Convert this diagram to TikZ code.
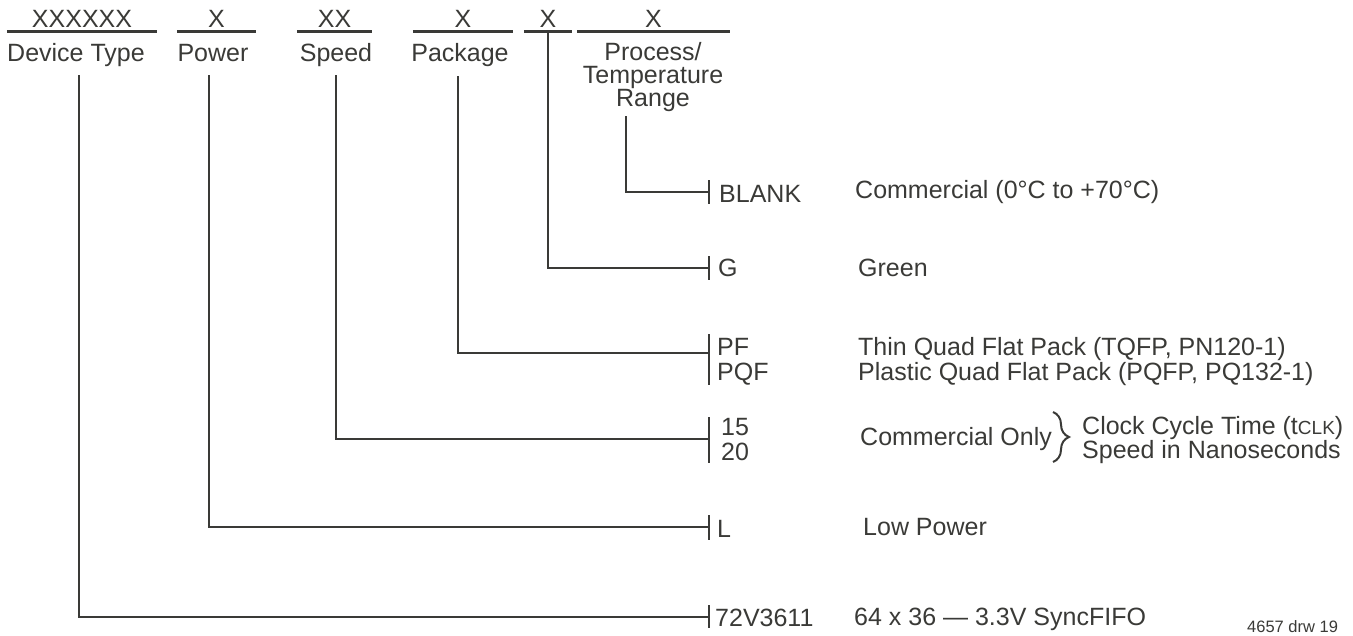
\documentclass[tikz,border=0pt]{standalone}
\usepackage{fontspec}
\setmainfont{Liberation Sans}
\usepackage{tikz}
\usetikzlibrary{decorations.pathreplacing}
\definecolor{drwInk}{HTML}{3A3A37}
\colorlet{oiK}{drwInk}

\begin{document}
\begin{tikzpicture}[x=1pt,y=-1pt]
    \tikzstyle{rule}=[draw=oiK, line width=2.6pt]
    \tikzstyle{txt}=[inner sep=0pt, text=oiK, font=\fontsize{25}{25}\selectfont]
    \tikzstyle{field}=[txt, anchor=base, text depth=4pt]
    \tikzstyle{lbl}=[txt, anchor=base]
    \tikzstyle{code}=[txt, anchor=base west]
    \tikzstyle{desc}=[txt, anchor=base west]
    \tikzstyle{twoline}=[txt, anchor=north west, align=left]

    \useasboundingbox (0,0) rectangle (1353,635);

    % ordering code fields
    \node[field, minimum width=150pt] (f1) at (82,27) {XXXXXX};
    \node[field, minimum width=79pt] (f2) at (216.5,27) {X};
    \node[field, minimum width=75pt] (f3) at (334.5,27) {XX};
    \node[field, minimum width=100pt] (f4) at (463,27) {X};
    \node[field, minimum width=48pt] (f5) at (548,27) {X};
    \node[field, minimum width=153pt] (f6) at (653.5,27) {X};
    \foreach \f in {f1,f2,f3,f4,f5,f6}
      \draw[rule] (\f.south west) -- (\f.south east);

    \node[lbl] (devtype) at (76,61) {Device Type};
    \node[lbl] (power) at (213,61) {Power};
    \node[lbl] (speed) at (336,61) {Speed};
    \node[lbl] (package) at (460,61) {Package};
    \node[txt, anchor=north, align=center, font=\fontsize{25}{23}\selectfont] (process) at (653,42) {Process/\\Temperature\\Range};

    % line starts and ends
    \coordinate (p1) at (79,75);
    \coordinate (p2) at (209,75);
    \coordinate (p3) at (336,75);
    \coordinate (p4) at (458,76);
    \coordinate (p5) at (548,33);
    \coordinate (p6) at (626,116);
    \coordinate (k1) at (709,192);
    \coordinate (k2) at (709,268);
    \coordinate (k3) at (709,353);
    \coordinate (k4) at (709,439);
    \coordinate (k5) at (709,527);
    \coordinate (k6) at (709,617);

    \draw[rule] (p6) |- (k1);
    \draw[rule] (p5) |- (k2);
    \draw[rule] (p4) |- (k3);
    \draw[rule] (p3) |- (k4);
    \draw[rule] (p2) |- (k5);
    \draw[rule] (p1) |- (k6);

    % ticks
    \foreach \t/\b in {180/204, 256/280, 334/385, 417/463, 515/540, 605/628}
      \draw[rule] (709,\t) -- (709,\b);

    % options
    \node[code] (blank) at (719,202) {BLANK};
    \node[code] (green) at (718,276) {G};
    \node[twoline] (pkg) at (717,338) {PF\\PQF};
    \node[twoline] (spd) at (721,418) {15\\20};
    \node[code] (lowp) at (717,537) {L};
    \node[code] (dev) at (715,626) {72V3611};

    \node[desc] (dcomm) at (855,198) {Commercial (0°C to +70°C)};
    \node[desc] (dgreen) at (858,276) {Green};
    \node[twoline] (dpkg) at (858,337) {Thin Quad Flat Pack (TQFP, PN120-1)\\Plastic Quad Flat Pack (PQFP, PQ132-1)};
    \node[desc] (donly) at (860,445) {Commercial Only};
    \node[twoline, font=\fontsize{25}{22}\selectfont] (dclk) at (1082,416) {Clock Cycle Time (t{\fontsize{19}{19}\selectfont CLK})\\Speed in Nanoseconds};
    \node[desc] (dlow) at (863,535) {Low Power};
    \node[desc] (ddev) at (854,625) {64 x 36 — 3.3V SyncFIFO};
    \node[desc, font=\fontsize{16.5}{18}\selectfont] (drw) at (1247,632) {4657 drw 19};

    \draw[oiK, line width=2pt, decorate, decoration={brace, amplitude=16pt}] (1053,412) -- (1053,462);
\end{tikzpicture}
\end{document}
